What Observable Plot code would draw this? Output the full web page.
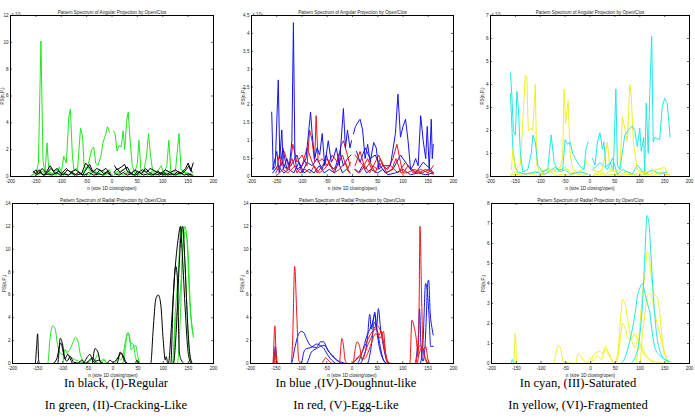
<!DOCTYPE html>
<html><head><meta charset="utf-8">
<script src="https://cdn.jsdelivr.net/npm/d3@7"></script>
<script src="https://cdn.jsdelivr.net/npm/@observablehq/plot@0.6"></script>
<style>
html,body{margin:0;padding:0;background:#fff}
body{width:695px;height:419px;position:relative;overflow:hidden}
.p{position:absolute}
.cap{position:absolute;font-family:"Liberation Serif","Times New Roman",serif;font-size:12.6px;text-align:center;width:232px;line-height:22px;color:#000}
</style></head><body>
<div id="p1" class="p" style="left:0;top:0"></div>
<div id="p2" class="p" style="left:232px;top:0"></div>
<div id="p3" class="p" style="left:464px;top:0"></div>
<div id="p4" class="p" style="left:0;top:190px"></div>
<div id="p5" class="p" style="left:232px;top:190px"></div>
<div id="p6" class="p" style="left:464px;top:190px"></div>
<div class="cap" style="left:0;top:372px">In black, (I)-Regular<br>In green, (II)-Cracking-Like</div>
<div class="cap" style="left:230px;top:372px">In blue ,(IV)-Doughnut-like<br>In red, (V)-Egg-Like</div>
<div class="cap" style="left:462px;top:372px">In cyan, (III)-Saturated<br>In yellow, (VI)-Fragmented</div>
<script>
// ---------- tick labels / texts ----------
const xTicks = [-200, -150, -100, -50, 0, 50, 100, 150, 200];
const yTicksA1 = [0, 2, 4, 6, 8, 10, 12];
const yTicksA2 = [0, 0.5, 1, 1.5, 2, 2.5, 3, 3.5, 4, 4.5];
const yTicksA3 = [0, 1, 2, 3, 4, 5, 6, 7];
const yTicksR1 = [0, 2, 4, 6, 8, 10, 12, 14];
const yTicksR3 = [0, 1, 2, 3, 4, 5, 6, 7, 8];
const titleAngular = "Pattern Spectrum of Angular Projection by Open/Clos";
const titleRadial = "Pattern Spectrum of Radial Projection by Open/Clos";
const xLabel = "n (size 1D closing/open)";
const yLabel = "PS(n,P\u209B)";
const exponents = ["x 10\u2077", "x 10\u2078", "x 10\u2077"];

// ---------- Panel 1: angular, black / green (x 10^7) ----------
const green1a = [[-150,0.2],[-145,1.0],[-140,10.1],[-136,1.2],[-132,0.3],[-128,2.5],[-124,0.2],[-110,0.2],[-100,0.3],[-95,1.5],[-90,1.0],[-85,4.5],[-82,5.0],[-78,1.5],[-75,0.5],[-68,0.5],[-62,3.6],[-58,3.0],[-55,0.8],[-50,0.5],[-45,1.2],[-40,2.0],[-36,2.2],[-32,1.0],[-28,0.8],[-22,1.5],[-18,2.5],[-12,3.2],[-9,3.7],[-5,3.3],[0,null],[3,3.4],[6,3.2],[10,1.9],[14,2.3],[18,2.2],[22,3.4],[25,2.0],[29,4.2],[32,4.8],[36,2.5],[40,0.8],[45,0.3],[50,1.0],[53,2.7],[57,0.5],[62,0.3],[68,1.5],[72,3.2],[76,1.5],[80,0.5],[88,0.3],[97,0.8],[102,0.2],[108,0.8],[112,2.7],[116,0.3],[125,0.4],[129,2.0],[132,3.2],[136,0.5],[145,0.3],[155,0.2]];
const green1b = [[-158,0.1],[-150,0.3],[-145,0.1],[-138,0.4],[-130,0.2],[-122,0.1],[-115,0.3],[-108,0.5],[-100,0.2],[-92,0.3],[-85,0.1],[-78,0.4],[-70,0.6],[-62,0.2],[-55,0.4],[-48,0.8],[-42,0.3],[-35,0.5],[-28,0.2],[-20,0.4],[-12,0.3],[-5,0.5],[-2,0.2],[0,null],[5,0.3],[12,0.2],[20,0.5],[28,0.3],[35,0.2],[42,0.4],[50,0.1],[58,0.3],[65,0.5],[72,0.2],[80,0.4],[88,0.1],[95,0.3],[102,0.2],[110,0.4],[118,0.1],[125,0.3],[132,0.2],[140,0.4],[148,0.1],[155,0.2],[160,0.1]];
const green1c = [[-160,0.05],[-152,0.2],[-146,0.5],[-140,0.2],[-132,0.1],[-125,0.4],[-118,0.2],[-110,0.1],[-104,0.7],[-98,0.2],[-88,0.1],[-80,0.2],[-72,0.1],[-66,0.3],[-58,0.1],[-52,0.2],[-44,0.1],[-38,0.3],[-30,0.1],[-24,0.2],[-16,0.1],[-8,0.2],[-2,0.1],[0,null],[4,0.1],[10,0.4],[16,0.2],[24,0.1],[32,0.3],[40,0.1],[48,0.2],[56,0.1],[62,0.2],[70,0.1],[78,0.3],[86,0.1],[94,0.2],[100,0.1],[108,0.2],[116,0.1],[124,0.2],[134,0.1],[142,0.3],[150,0.1],[160,0.05]];
const black1a = [[-155,0.3],[-150,0.5],[-145,0.2],[-138,0.6],[-130,0.3],[-122,0.8],[-115,0.4],[-108,0.6],[-100,0.2],[-90,0.6],[-82,0.3],[-72,0.5],[-60,0.2],[-52,1.0],[-45,0.7],[-38,0.3],[-30,0.6],[-20,0.4],[-12,0.6],[-5,0.3],[0,null],[5,0.8],[10,0.5],[18,0.7],[25,0.9],[30,0.4],[38,0.2],[45,0.5],[52,0.3],[60,0.5],[68,0.3],[75,0.6],[85,0.4],[95,0.2],[105,0.5],[115,0.3],[125,0.5],[135,0.2],[145,0.6],[150,1.0],[155,0.4],[160,1.0]];
const black1b = [[-155,0.4],[-150,0.2],[-143,0.5],[-136,0.1],[-128,0.3],[-120,0.6],[-112,0.2],[-105,0.4],[-96,0.1],[-88,0.5],[-80,0.3],[-74,0.1],[-66,0.3],[-58,0.1],[-50,0.6],[-44,0.9],[-38,0.4],[-30,0.2],[-24,0.5],[-16,0.2],[-8,0.4],[-2,0.1],[0,null],[4,0.3],[10,0.6],[16,0.3],[22,0.5],[30,0.7],[36,0.3],[44,0.1],[50,0.4],[58,0.2],[66,0.6],[74,0.3],[82,0.1],[90,0.4],[98,0.2],[106,0.1],[114,0.3],[122,0.1],[130,0.4],[138,0.2],[146,0.5],[152,0.8],[158,0.3]];
const black1c = [[-150,0.1],[-142,0.3],[-134,0.1],[-126,0.2],[-118,0.1],[-110,0.3],[-102,0.1],[-94,0.2],[-86,0.1],[-78,0.3],[-70,0.1],[-62,0.2],[-54,0.1],[-46,0.3],[-36,0.1],[-26,0.2],[-18,0.1],[-10,0.3],[-3,0.1],[0,null],[6,0.2],[14,0.1],[22,0.3],[30,0.1],[38,0.2],[46,0.1],[54,0.3],[62,0.1],[70,0.2],[78,0.1],[86,0.2],[94,0.1],[102,0.3],[110,0.1],[118,0.2],[126,0.1],[134,0.3],[142,0.1],[150,0.2],[158,0.1]];

// ---------- Panel 2: angular, blue / red (x 10^8) ----------
const blue2a = [[-160,1.8],[-157,0.2],[-153,0.3],[-147,2.7],[-144,0.5],[-140,1.3],[-137,0.2],[-130,0.5],[-125,0.3],[-120,1.0],[-117,4.3],[-114,0.5],[-110,0.2],[-100,0.3],[-92,0.5],[-83,1.8],[-80,1.2],[-75,0.5],[-70,0.8],[-65,0.6],[-60,1.2],[-55,0.3],[-48,1.0],[-42,0.4],[-38,0.5],[-32,0.8],[-26,0.3],[-18,1.9],[-14,0.8],[-10,1.3],[-5,0.8],[-2,1.0],[0,null],[2,1.2],[6,1.4],[10,1.5],[15,1.6],[20,1.3],[25,0.5],[30,0.9],[35,0.4],[42,0.95],[47,0.8],[52,0.2],[60,0.3],[75,0.3],[85,1.2],[90,2.3],[95,1.1],[100,1.4],[105,1.6],[110,1.0],[115,0.2],[120,0.3],[125,0.5],[130,0.3],[135,1.7],[140,1.0],[145,0.5],[148,1.4],[152,0.2],[156,1.6],[158,0.5],[160,0.9]];
const blue2b = [[-158,0.2],[-150,0.7],[-145,0.1],[-138,0.8],[-130,0.2],[-122,0.3],[-110,0.6],[-100,0.1],[-90,0.4],[-80,0.3],[-70,0.5],[-60,0.2],[-52,0.6],[-45,0.3],[-35,0.2],[-25,0.7],[-18,0.3],[-10,0.5],[-3,0.6],[0,null],[8,0.7],[15,0.4],[25,0.8],[35,0.5],[45,0.6],[55,0.3],[65,0.1],[80,0.2],[95,0.6],[110,0.3],[125,0.1],[140,0.4],[155,0.2],[160,0.1]];
const blue2c = [[-158,0.1],[-148,0.3],[-136,0.1],[-126,0.2],[-116,0.1],[-106,0.4],[-96,0.1],[-86,0.2],[-76,0.1],[-66,0.3],[-56,0.1],[-46,0.2],[-36,0.1],[-28,0.4],[-20,0.1],[-12,0.2],[-4,0.1],[0,null],[4,0.2],[12,0.1],[20,0.3],[28,0.1],[36,0.2],[50,0.1],[60,0.2],[70,0.05],[85,0.1],[100,0.2],[115,0.05],[130,0.1],[145,0.05],[160,0.1]];
const red2a = [[-150,0.2],[-145,0.6],[-140,0.3],[-135,0.7],[-125,0.2],[-118,0.9],[-110,0.4],[-100,0.6],[-90,0.3],[-85,1.3],[-80,1.0],[-75,0.4],[-72,1.7],[-68,0.4],[-60,0.5],[-50,0.3],[-40,0.6],[-30,0.4],[-22,0.9],[-18,1.0],[-10,0.6],[-5,0.3],[0,null],[5,0.6],[10,0.5],[15,0.4],[22,0.3],[30,0.5],[38,0.2],[45,0.4],[52,0.6],[60,0.3],[70,0.2],[80,0.5],[88,0.9],[95,0.4],[100,0.1],[110,0.3],[120,0.1],[135,0.2],[150,0.1],[160,0.3]];
const red2b = [[-152,0.1],[-140,0.4],[-130,0.2],[-120,0.5],[-110,0.1],[-100,0.3],[-90,0.8],[-80,0.4],[-70,0.1],[-60,0.3],[-50,0.5],[-40,0.2],[-30,0.3],[-20,0.6],[-10,0.2],[-4,0.4],[0,null],[5,0.3],[15,0.7],[25,0.2],[35,0.4],[45,0.1],[55,0.5],[65,0.2],[75,0.3],[90,0.1],[105,0.4],[115,0.2],[130,0.1],[145,0.2],[160,0.1]];
const red2c = [[-148,0.05],[-138,0.2],[-128,0.1],[-114,0.3],[-104,0.1],[-94,0.2],[-84,0.1],[-76,0.3],[-66,0.1],[-56,0.2],[-46,0.4],[-36,0.1],[-26,0.2],[-14,0.4],[-6,0.1],[0,null],[6,0.2],[14,0.1],[24,0.3],[34,0.1],[40,0.3],[50,0.2],[58,0.4],[68,0.1],[78,0.2],[86,0.5],[96,0.1],[108,0.1],[122,0.2],[138,0.1],[152,0.2],[160,0.05]];

// ---------- Panel 3: angular, cyan / yellow (x 10^7) ----------
const cyan3a = [[-160,4.5],[-157,3.5],[-154,2.0],[-150,1.8],[-147,3.7],[-144,3.0],[-140,1.0],[-135,0.2],[-125,0.3],[-118,1.0],[-115,1.8],[-110,1.5],[-105,0.5],[-95,0.2],[-85,0.3],[-78,1.8],[-72,0.6],[-65,0.3],[-55,0.3],[-50,1.6],[-45,1.4],[-40,1.5],[-35,1.0],[-30,0.8],[-22,0.5],[-18,0.4],[-12,0.3],[-8,1.2],[-4,1.5],[0,null],[5,0.8],[10,0.5],[15,1.5],[20,1.9],[25,1.2],[28,1.5],[32,0.4],[40,0.6],[47,0.3],[52,3.8],[55,0.5],[60,0.3],[70,1.8],[80,2.1],[85,2.2],[90,2.0],[95,1.3],[100,2.1],[103,1.1],[108,1.7],[110,0.2],[113,3.2],[117,1.0],[120,3.5],[124,6.1],[127,1.5],[130,1.7],[140,1.6],[145,3.0],[150,3.4],[155,3.2],[158,2.5],[161,1.7]];
const cyan3b = [[-160,3.6],[-155,1.2],[-150,0.4],[-145,0.2],[-130,0.1],[-110,0.2],[-90,0.1],[-70,0.4],[-60,0.2],[-50,0.3],[-40,0.1],[-20,0.2],[-5,0.1],[0,null],[5,0.3],[20,0.6],[35,0.3],[45,0.8],[55,0.1],[65,0.3],[75,0.2],[85,0.1],[95,0.5],[110,0.1],[125,0.3],[140,0.1],[155,0.2]];
const yellow3a = [[-158,0.3],[-155,1.2],[-150,0.3],[-140,0.5],[-130,4.4],[-127,4.3],[-124,2.0],[-118,2.1],[-115,2.0],[-110,4.0],[-107,0.5],[-100,0.1],[-85,0.3],[-75,0.2],[-60,0.4],[-55,0.8],[-52,3.8],[-49,2.3],[-44,3.3],[-40,1.0],[-35,0.3],[-25,0.2],[-15,0.3],[-8,0.7],[-3,0.5],[0,null],[5,0.3],[15,0.2],[25,0.3],[35,1.5],[40,0.3],[50,0.2],[60,0.3],[65,2.6],[70,2.1],[75,1.5],[80,4.0],[83,3.5],[87,1.5],[95,0.3],[105,0.2],[120,0.2],[135,0.3],[150,0.4],[155,0.2]];
const yellow3b = [[-160,0.1],[-150,0.2],[-140,0.1],[-130,0.15],[-120,0.1],[-100,0.2],[-85,0.35],[-75,0.3],[-65,0.2],[-50,0.4],[-40,0.2],[-25,0.1],[-10,0.2],[0,null],[8,0.1],[20,0.2],[30,0.1],[45,0.3],[60,0.1],[75,0.2],[90,0.1],[105,0.2],[120,0.1],[140,0.2],[150,0.1],[160,0.1]];
const yellow3c = [[-160,0.05],[-148,0.1],[-136,0.05],[-122,0.15],[-108,0.05],[-94,0.1],[-80,0.2],[-68,0.05],[-54,0.1],[-40,0.05],[-28,0.15],[-14,0.05],[-4,0.1],[0,null],[6,0.05],[18,0.1],[32,0.05],[48,0.1],[62,0.05],[78,0.1],[96,0.05],[112,0.1],[128,0.05],[146,0.2],[160,0.05]];

// ---------- Panel 4: radial, black / green ----------
const black4a = [[-160,0],[-155,0],[-152,1.5],[-150,2.6],[-148,0.3],[-146,0],[-110,0],[-105,2.2],[-100,1.6],[-96,0.4],[-90,0.8],[-85,0.4],[-80,0],[-42,0],[-36,1.3],[-30,1.0],[-25,0.1],[-20,0],[8,0],[14,1.0],[20,0.7],[26,0.1],[30,0],[75,0],[80,3.0],[85,5.6],[90,6.0],[95,5.2],[100,2.0],[104,0.3],[106,0.6],[109,0],[115,0],[120,6.0],[125,8.5],[128,7.5],[132,1.0],[136,0.3],[142,0],[160,0]];
const black4b = [[-160,0],[-120,0],[-112,0.4],[-104,1.8],[-98,0.8],[-92,0.2],[-85,0.6],[-78,0.1],[-60,0],[-52,0.5],[-46,0.8],[-40,0.2],[-30,0],[-12,0],[-6,0.3],[0,0.1],[10,0.5],[16,0.9],[22,0.3],[28,0],[44,0],[48,0.3],[52,0],[110,0],[118,4.5],[124,8.5],[130,11.0],[134,12.0],[138,9.5],[144,4.5],[150,0.8],[156,0],[160,0]];
const black4c = [[-160,0],[-70,0],[-62,0.3],[-56,0],[-40,0.5],[-35,0.2],[-28,0.3],[-20,0],[120,0],[126,3.0],[131,8.0],[136,11.5],[139,12.0],[143,9.0],[148,4.0],[153,0.8],[158,0],[160,0]];
const green4a = [[-160,0],[-130,0],[-125,2.3],[-120,3.3],[-115,3.0],[-110,1.5],[-105,0.9],[-100,0.8],[-95,1.2],[-90,1.0],[-85,1.3],[-80,1.8],[-75,2.3],[-70,2.0],[-65,0.8],[-60,0.3],[-52,0],[-38,0],[-34,0.5],[-30,0.8],[-25,0.2],[-18,0.4],[-12,0],[18,0],[22,0.5],[25,1.5],[28,2.6],[32,2.6],[36,1.2],[40,1.4],[45,1.6],[50,0.5],[55,0],[120,0],[125,4.0],[130,4.8],[135,7.0],[140,11.0],[143,12.0],[147,11.0],[152,6.0],[156,3.5],[160,2.5]];
const green4b = [[-160,0],[-100,0],[-96,1.2],[-90,0.8],[-82,0.5],[-74,0.3],[-62,0.1],[-50,0],[-42,0.4],[-36,0.2],[-24,0],[-18,0.3],[-12,0],[4,0],[10,0.6],[15,0.3],[20,0.8],[25,2.0],[30,2.7],[35,1.8],[40,1.7],[45,0.5],[52,0],[118,0],[124,4.5],[130,8.0],[135,12.0],[140,11.0],[145,7.0],[150,2.0],[155,0.3],[160,0]];
const green4c = [[-160,0],[128,0],[134,4.0],[139,10.0],[144,11.5],[149,10.0],[154,5.0],[158,3.0],[160,2.3]];

// ---------- Panel 5: radial, blue / red ----------
const blue5a = [[-160,0],[-155,0],[-151,1.5],[-147,0],[-120,0],[-112,1.5],[-106,2.5],[-100,2.8],[-95,2.7],[-90,2.2],[-80,1.5],[-70,1.4],[-62,1.9],[-56,1.9],[-50,1.4],[-45,1.0],[-40,0.8],[-30,0.3],[-20,0.1],[-10,0],[16,0],[22,0.5],[30,2.0],[35,4.3],[38,3.0],[42,3.8],[45,4.5],[48,3.0],[52,4.8],[56,3.2],[60,2.0],[65,0.8],[70,0.1],[78,0],[124,0],[128,1.0],[131,2.5],[133,4.8],[136,1.5],[140,0.2],[143,1.0],[146,3.5],[149,7.0],[151,7.3],[154,4.5],[158,3.0],[160,2.5]];
const blue5b = [[-160,0],[-100,0],[-95,1.0],[-90,1.3],[-80,1.4],[-70,1.7],[-60,1.5],[-55,1.3],[-50,0.9],[-40,0.3],[-30,0],[10,0],[20,1.0],[30,2.5],[40,3.5],[45,4.3],[50,2.5],[55,1.2],[60,0.5],[70,0],[134,0],[140,2.0],[145,7.0],[148,6.5],[152,4.0],[155,1.5],[160,1.5]];
const blue5c = [[-160,0],[-90,0],[-80,1.0],[-70,1.3],[-62,1.5],[-55,1.6],[-48,1.2],[-40,0.7],[-30,0.3],[-20,0],[30,0],[38,1.5],[44,3.6],[50,2.8],[56,1.4],[62,0.3],[68,0],[160,0]];
const red5a = [[-160,0],[-156,0],[-152,3.3],[-149,0.3],[-146,0],[-120,0],[-117,2.0],[-113,8.5],[-109,4.5],[-105,0.3],[-100,0],[-25,0],[-20,2.2],[-17,1.6],[-13,0.2],[-8,0],[2,0],[6,1.2],[10,1.9],[15,1.5],[20,0.3],[25,0.8],[30,1.5],[35,2.0],[40,2.5],[45,3.2],[50,3.3],[55,3.0],[60,2.2],[65,1.0],[70,0.1],[75,0],[114,0],[118,3.8],[122,3.3],[127,2.0],[130,0.6],[132,4.0],[134,12.0],[137,6.0],[140,1.2],[145,0.3],[150,0],[160,0]];
const red5b = [[-160,0],[-155,0],[-152,1.2],[-148,0],[-60,0],[-52,0.5],[-45,0.2],[-38,0],[0,0],[10,0.5],[20,1.0],[30,2.0],[40,2.8],[48,3.0],[55,2.2],[62,2.8],[66,1.0],[70,0.2],[78,0],[126,0],[130,1.3],[135,1.6],[140,1.2],[145,1.5],[150,0.3],[155,0],[160,0]];
const red5c = [[-160,0],[-154,0],[-151,0.8],[-148,0],[0,0],[8,0.3],[16,0.6],[24,0.4],[32,1.0],[40,2.0],[46,2.6],[52,2.4],[58,2.8],[62,2.0],[68,0.5],[74,0],[128,0],[132,0.8],[138,1.4],[144,0.6],[150,0],[160,0]];

// ---------- Panel 6: radial, cyan / yellow ----------
const cyan6a = [[-160,0],[-158,0.2],[-155,0],[60,0],[70,0.3],[80,1.2],[90,2.5],[95,3.4],[100,3.8],[105,4.0],[110,3.5],[115,3.0],[120,2.5],[125,1.5],[130,0.8],[140,0.4],[150,0.2],[160,0.1]];
const cyan6b = [[-160,0],[80,0],[90,0.3],[100,1.5],[105,3.0],[110,5.5],[114,7.4],[118,7.0],[122,5.5],[128,3.0],[135,1.2],[142,0.5],[150,0.2],[160,0.1]];
const yellow6a = [[-160,0],[-155,0],[-152,1.5],[-149,0],[-75,0],[-70,0.5],[-65,0.9],[-60,0.7],[-55,0.1],[-30,0],[-25,0.5],[-20,0.4],[-12,0.1],[0,0],[5,0.4],[10,0.5],[18,0.6],[25,0.5],[30,0.85],[35,0.5],[40,0.3],[48,0],[55,0.5],[60,2.0],[65,3.2],[70,3.0],[75,2.2],[80,1.5],[85,1.0],[90,0.8],[95,1.2],[100,0.9],[105,0.6],[110,0.4],[115,0.3],[120,0.2],[130,0.1],[160,0]];
const yellow6b = [[-160,0],[-8,0],[0,0.3],[6,0.1],[14,0.4],[22,0.2],[30,0.7],[36,0.6],[44,0.1],[50,0],[55,0.3],[60,1.2],[65,2.0],[70,1.8],[75,1.3],[80,1.2],[85,1.3],[90,1.5],[95,1.2],[100,1.0],[105,0.8],[110,0.5],[120,0.2],[130,0],[160,0]];
const yellow6c = [[-160,0],[90,0],[95,0.5],[100,2.0],[105,3.5],[110,4.5],[115,5.6],[118,5.5],[122,4.5],[128,3.5],[135,3.3],[140,2.5],[145,1.2],[150,0.5],[156,0],[160,0]];
const yellow6d = [[-160,0],[100,0],[105,1.5],[110,2.5],[115,3.4],[120,3.5],[125,3.2],[130,2.5],[140,1.5],[150,0.5],[158,0.1],[160,0]];

// ---------- colours ----------
const C = {black: "#000000", green: "#22e622", blue: "#1414f0", red: "#f01414", cyan: "#22e8e8", yellow: "#f0f028"};

// ---------- panel builder ----------
function panel(id, o) {
  const fw = o.width - o.ml - o.mr, fh = o.height - o.mt - o.mb;
  const marks = [
    ...o.series.map(([data, color]) => Plot.line(data, {x: d => d[0], y: d => d[1], stroke: color, strokeWidth: 1, curve: o.curve})),
    Plot.frame({stroke: "#000", strokeWidth: 1}),
    Plot.ruleX(xTicks, {x: d => d, insetTop: fh - 2, stroke: "#000", strokeWidth: 0.6}),
    Plot.ruleX(xTicks, {x: d => d, insetBottom: fh - 2, stroke: "#000", strokeWidth: 0.6}),
    Plot.ruleY(o.yTicks, {y: d => d, insetRight: fw - 2, stroke: "#000", strokeWidth: 0.6}),
    Plot.ruleY(o.yTicks, {y: d => d, insetLeft: fw - 2, stroke: "#000", strokeWidth: 0.6}),
    Plot.axisX({ticks: xTicks, tickSize: 0, tickPadding: 3, tickFormat: d => String(d), label: o.xLabel, labelAnchor: "center", labelArrow: "none", labelOffset: o.xLabelOffset}),
    Plot.axisY({ticks: o.yTicks, tickSize: 0, tickPadding: 2, tickFormat: d => String(d), label: yLabel, labelAnchor: "center", labelArrow: "none", labelOffset: o.yLabelOffset}),
    Plot.text([o.title], {text: d => d, frameAnchor: "top", dy: -5, fontSize: 4.6})
  ];
  if (o.exp) marks.push(Plot.text([o.exp], {text: d => d, frameAnchor: "top-left", dy: -3, dx: 1, textAnchor: "start", fontSize: 4.6}));
  const chart = Plot.plot({
    width: o.width, height: o.height,
    marginLeft: o.ml, marginRight: o.mr, marginTop: o.mt, marginBottom: o.mb,
    x: {domain: [-200, 200]},
    y: {domain: [0, o.yMax]},
    style: {fontSize: "4.6px", fontFamily: "'Liberation Sans', Arial, sans-serif", color: "#222", background: "transparent", overflow: "visible"},
    marks
  });
  document.getElementById(id).appendChild(chart);
}

const topCommon = {height: 190, mt: 15, mb: 14, curve: "linear", xLabel: xLabel, xLabelOffset: 13, yLabelOffset: 10};
const botCommon = {height: 190, mt: 13, mb: 17, curve: "monotone-x", xLabel: xLabel, xLabelOffset: 13, yLabelOffset: 10};

panel("p1", {...topCommon, width: 232, ml: 10, mr: 19, yMax: 12, yTicks: yTicksA1, title: titleAngular, exp: exponents[0],
  series: [[green1c, C.green], [green1b, C.green], [green1a, C.green], [black1c, C.black], [black1b, C.black], [black1a, C.black]]});
panel("p2", {...topCommon, width: 232, ml: 19, mr: 11, yMax: 4.5, yTicks: yTicksA2, title: titleAngular, exp: exponents[1],
  series: [[blue2c, C.blue], [blue2b, C.blue], [red2c, C.red], [red2b, C.red], [red2a, C.red], [blue2a, C.blue]]});
panel("p3", {...topCommon, width: 231, ml: 26, mr: 6, yMax: 7, yTicks: yTicksA3, title: titleAngular, exp: exponents[2],
  series: [[yellow3c, C.yellow], [yellow3b, C.yellow], [cyan3b, C.cyan], [yellow3a, C.yellow], [cyan3a, C.cyan]]});
panel("p4", {...botCommon, width: 232, ml: 12, mr: 19, yMax: 14, yTicks: yTicksR1, title: titleRadial,
  series: [[green4c, C.green], [green4b, C.green], [green4a, C.green], [black4c, C.black], [black4b, C.black], [black4a, C.black]]});
panel("p5", {...botCommon, width: 232, ml: 18, mr: 11, yMax: 14, yTicks: yTicksR1, title: titleRadial,
  series: [[blue5c, C.blue], [blue5b, C.blue], [blue5a, C.blue], [red5c, C.red], [red5b, C.red], [red5a, C.red]]});
panel("p6", {...botCommon, width: 231, ml: 27, mr: 6, yMax: 8, yTicks: yTicksR3, title: titleRadial,
  series: [[yellow6d, C.yellow], [yellow6c, C.yellow], [yellow6b, C.yellow], [yellow6a, C.yellow], [cyan6a, C.cyan], [cyan6b, C.cyan]]});
</script>
</body></html>
